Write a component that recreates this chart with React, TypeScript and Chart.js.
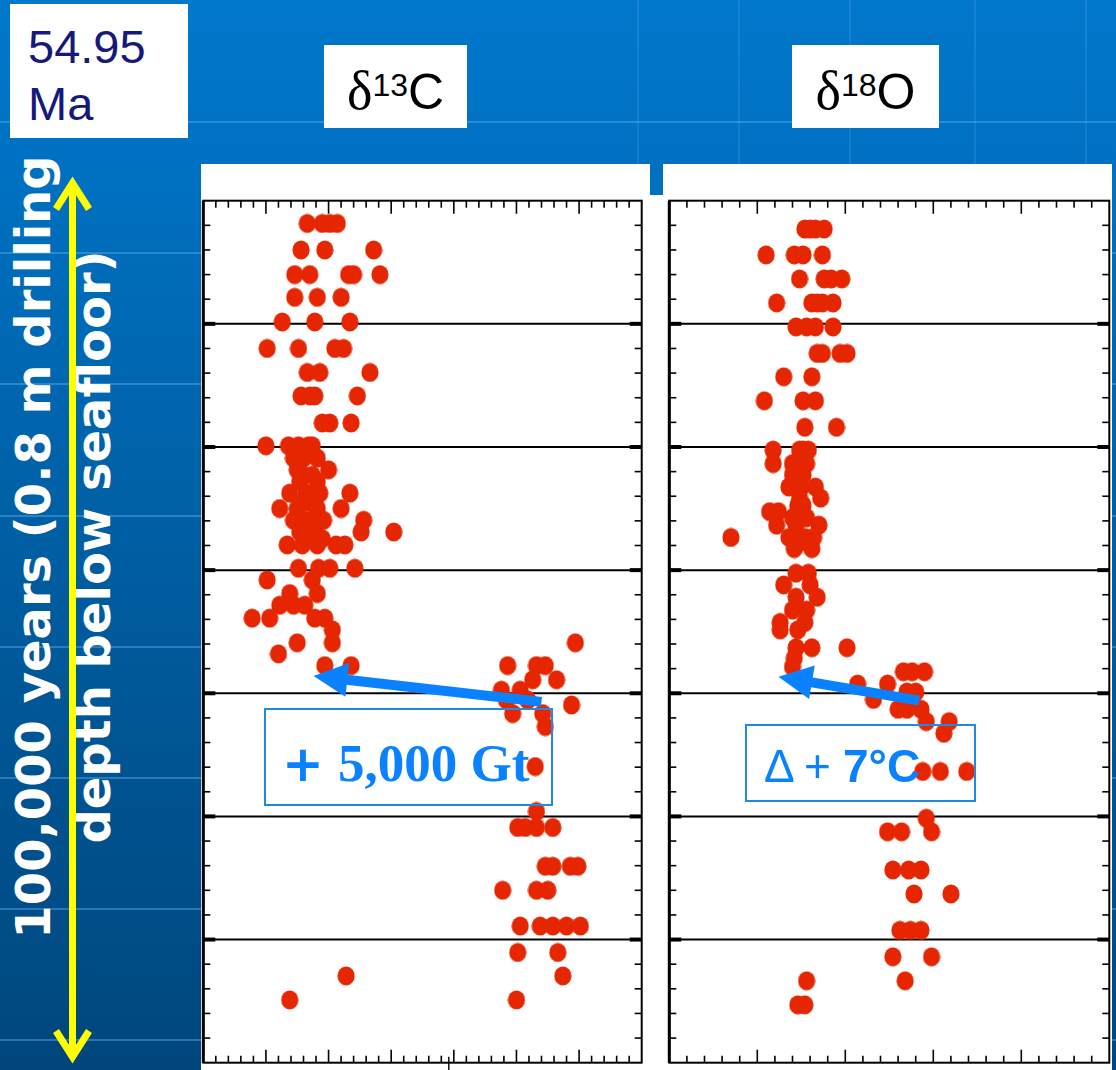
import React, { useEffect, useRef } from "react";
import { Chart, registerables } from "chart.js";

Chart.register(...registerables);

// ---------- DATA ----------
// Depth rows (cm below top of the plotted interval) and the values measured at each row
const c13Depths = [3.7, 8.0, 12.0, 15.7, 19.7, 24.0, 27.9, 31.7, 36.1, 39.8, 41.8, 43.7, 44.6, 45.6, 47.5, 49.0, 50.0, 51.9, 52.9, 53.8, 54.9, 55.9, 59.7, 61.6, 63.8, 65.7, 67.8, 69.7, 71.8, 73.6, 75.5, 77.8, 79.5, 81.1, 81.9, 83.3, 85.4, 91.9, 99.2, 101.8, 108.1, 112.0, 117.8, 122.1, 125.9, 129.8];
const c13Values = [
  [0.83, 0.95, 1.01, 1.07],
  [0.78, 0.97, 1.36],
  [0.73, 0.85, 1.16, 1.2, 1.41],
  [0.73, 0.91, 1.1],
  [0.63, 0.89, 1.17],
  [0.51, 0.76, 1.05, 1.12],
  [0.83, 0.93, 1.33],
  [0.78, 0.85, 0.89, 1.23],
  [0.95, 1.01, 1.18],
  [0.5, 0.68, 0.76, 0.84, 0.87],
  [0.72, 0.8, 0.91],
  [0.75, 1.0],
  [0.8, 0.87],
  [0.77, 0.91],
  [0.69, 0.82, 0.93, 1.17],
  [0.8, 0.86],
  [0.61, 0.75, 0.91, 1.1],
  [0.72, 0.83, 0.96, 1.28],
  [0.8, 0.9],
  [0.77, 0.88, 1.26, 1.52],
  [0.83, 0.95],
  [0.67, 0.79, 0.91, 1.06, 1.13],
  [0.76, 0.92, 1.01, 1.21],
  [0.51, 0.87],
  [0.69, 0.91],
  [0.61, 0.72, 0.81],
  [0.39, 0.53, 0.89, 0.97],
  [1.03],
  [0.75, 1.03, 2.97],
  [0.6],
  [0.97, 1.18, 2.43, 2.66, 2.73],
  [2.63, 2.82],
  [2.38, 2.53],
  [2.42, 2.59],
  [2.94],
  [2.47, 2.71],
  [2.73],
  [2.65],
  [2.66],
  [2.51, 2.57, 2.66, 2.79],
  [2.73, 2.79, 2.93, 2.99],
  [2.39, 2.66, 2.75],
  [2.53, 2.69, 2.79, 2.9, 3.01],
  [2.51, 2.83],
  [1.14, 2.87],
  [0.69, 2.5],
];

const o18Depths = [4.6, 8.8, 12.7, 16.6, 20.5, 24.8, 28.6, 32.5, 36.8, 40.5, 42.7, 44.5, 46.5, 48.3, 49.5, 50.5, 51.5, 52.7, 54.7, 55.5, 56.5, 60.5, 62.4, 64.4, 66.5, 68.5, 69.7, 72.6, 74.3, 75.7, 76.5, 78.5, 79.8, 81.0, 82.6, 84.6, 86.5, 92.7, 100.3, 102.5, 108.7, 112.6, 118.5, 122.8, 126.7, 130.6];
const o18Values = [
  [-1.23, -1.2, -1.17, -1.12],
  [-1.45, -1.29, -1.24, -1.13],
  [-1.26, -1.12, -1.08, -1.02],
  [-1.39, -1.19, -1.16, -1.13, -1.07],
  [-1.28, -1.22, -1.17, -1.07],
  [-1.16, -1.13, -1.03, -0.99],
  [-1.35, -1.19],
  [-1.46, -1.24, -1.17],
  [-1.23, -1.05],
  [-1.41, -1.26, -1.24, -1.21],
  [-1.41, -1.3, -1.27, -1.22],
  [-1.3, -1.24],
  [-1.32, -1.25, -1.17],
  [-1.26, -1.14],
  [-1.27, -1.24],
  [-1.43, -1.38, -1.27],
  [-1.3, -1.22],
  [-1.39, -1.28, -1.15],
  [-1.65, -1.32, -1.23, -1.18],
  [-1.26, -1.21],
  [-1.29, -1.19],
  [-1.28, -1.21],
  [-1.35, -1.2],
  [-1.28, -1.16],
  [-1.3, -1.22],
  [-1.37, -1.23],
  [-1.37, -1.27],
  [-1.28, -1.19, -0.99],
  [-1.29],
  [-1.3],
  [-0.67, -0.62, -0.55],
  [-0.93, -0.76],
  [-0.65, -0.6],
  [-0.84],
  [-0.7, -0.65, -0.57],
  [-0.54, -0.41],
  [-0.44],
  [-0.56, -0.46, -0.31],
  [-0.54],
  [-0.76, -0.68, -0.51],
  [-0.73, -0.64, -0.57],
  [-0.61, -0.4],
  [-0.69, -0.63, -0.57],
  [-0.73, -0.51],
  [-1.22, -0.66],
  [-1.27, -1.23],
];

// axes (no labels shown in the original; ticks only)
const depthRange = [0, 140];
const depthSteps = [20, 4]; // major, minor
const c13Range = [0, 3.5];
const c13Steps = [0.5, 0.1];
const o18Range = [-2.0, 0.5];
const o18Steps = [0.5, 0.1];

// annotation arrows (data units): [value, depth]
const c13ArrowFrom = [2.7, 81.4];
const c13ArrowTo = [0.88, 77.2];
const o18ArrowFrom = [-0.58, 81.2];
const o18ArrowTo = [-1.38, 77.3];
const c13OddTick = 1.96;

// ---------- helpers ----------
function steps(min: number, max: number, step: number) {
  const out: number[] = [];
  const n = Math.round((max - min) / step);
  for (let i = 0; i <= n; i++) out.push(+(min + i * step).toFixed(6));
  return out;
}
function isMult(v: number, m: number) {
  const r = v / m;
  return Math.abs(r - Math.round(r)) < 1e-6;
}
function rowsToPoints(depths: number[], values: number[][]) {
  const pts: { x: number; y: number }[] = [];
  depths.forEach((d, i) => values[i].forEach((v) => pts.push({ x: v, y: d })));
  return pts;
}

const RED = "#e52600";
const ARROW_BLUE = "#0a82ff";

function makeDot() {
  const c = document.createElement("canvas");
  c.width = 18;
  c.height = 20;
  const g = c.getContext("2d")!;
  g.fillStyle = RED;
  g.beginPath();
  g.ellipse(9, 10, 8.6, 9.4, 0, 0, Math.PI * 2);
  g.fill();
  return c;
}

function panelPlugin(cfg: any) {
  return {
    id: "panelAxes",
    beforeDatasetsDraw(chart: any) {
      const { ctx, chartArea } = chart;
      const { left, right, top, bottom } = chartArea;
      const xs = chart.scales.x;
      const ys = chart.scales.y;
      const line = (x1: number, y1: number, x2: number, y2: number, w: number) => {
        ctx.lineWidth = w;
        ctx.beginPath();
        ctx.moveTo(x1, y1);
        ctx.lineTo(x2, y2);
        ctx.stroke();
      };
      ctx.save();
      ctx.strokeStyle = "#000";
      ctx.lineCap = "butt";
      for (const v of steps(cfg.yRange[0], cfg.yRange[1], cfg.ySteps[1])) {
        if (v <= cfg.yRange[0] || v >= cfg.yRange[1]) continue;
        const py = ys.getPixelForValue(v);
        if (isMult(v - cfg.yRange[0], cfg.ySteps[0])) {
          line(left, py, right, py, 2);
          line(left, py, left + 12, py, 4);
          line(right - 12, py, right, py, 4);
        } else {
          line(left, py, left + 7, py, 1.6);
          line(right - 7, py, right, py, 1.6);
        }
      }
      for (const v of steps(cfg.xRange[0], cfg.xRange[1], cfg.xSteps[1])) {
        if (v <= cfg.xRange[0] || v >= cfg.xRange[1]) continue;
        const px = xs.getPixelForValue(v);
        const len = isMult(v - cfg.xRange[0], cfg.xSteps[0]) ? 13 : 7;
        line(px, top, px, top + len, 1.6);
        line(px, bottom - len, px, bottom, 1.6);
      }
      if (cfg.oddTick !== undefined) {
        const px = xs.getPixelForValue(cfg.oddTick);
        line(px, bottom - 6, px, bottom + 8, 1.4);
      }
      ctx.lineWidth = 2;
      ctx.strokeRect(left, top, right - left, bottom - top);
      line(left, top, left, bottom, 3);
      ctx.restore();
    },
    afterDatasetsDraw(chart: any) {
      const { ctx } = chart;
      const xs = chart.scales.x;
      const ys = chart.scales.y;
      const x1 = xs.getPixelForValue(cfg.arrowFrom[0]);
      const y1 = ys.getPixelForValue(cfg.arrowFrom[1]);
      const x2 = xs.getPixelForValue(cfg.arrowTo[0]);
      const y2 = ys.getPixelForValue(cfg.arrowTo[1]);
      const ang = Math.atan2(y2 - y1, x2 - x1);
      const headLen = 34;
      const half = 17;
      const bx = x2 - headLen * Math.cos(ang);
      const by = y2 - headLen * Math.sin(ang);
      ctx.save();
      ctx.strokeStyle = ARROW_BLUE;
      ctx.fillStyle = ARROW_BLUE;
      ctx.lineWidth = 10;
      ctx.lineCap = "butt";
      ctx.beginPath();
      ctx.moveTo(x1, y1);
      ctx.lineTo(bx + 3 * Math.cos(ang), by + 3 * Math.sin(ang));
      ctx.stroke();
      ctx.beginPath();
      ctx.moveTo(x2, y2);
      ctx.lineTo(bx + half * Math.sin(ang), by - half * Math.cos(ang));
      ctx.lineTo(bx - half * Math.sin(ang), by + half * Math.cos(ang));
      ctx.closePath();
      ctx.fill();
      ctx.restore();
    },
  };
}

function Panel(props: any) {
  const ref = useRef<HTMLCanvasElement | null>(null);
  useEffect(() => {
    if (!ref.current) return;
    const dot = makeDot();
    const chart = new Chart(ref.current, {
      type: "scatter",
      data: {
        datasets: [
          {
            data: rowsToPoints(props.depths, props.values),
            backgroundColor: RED,
            borderColor: RED,
            borderWidth: 0,
            pointStyle: dot,
            pointRadius: 9,
            pointHoverRadius: 9,
          },
        ],
      },
      options: {
        animation: false,
        responsive: false,
        devicePixelRatio: 1,
        events: [],
        layout: { padding: props.padding, autoPadding: false },
        plugins: { legend: { display: false }, tooltip: { enabled: false } },
        scales: {
          x: { type: "linear", min: props.xRange[0], max: props.xRange[1], display: false },
          y: { type: "linear", min: depthRange[0], max: depthRange[1], reverse: true, display: false },
        },
      },
      plugins: [
        panelPlugin({
          xRange: props.xRange,
          xSteps: props.xSteps,
          yRange: depthRange,
          ySteps: depthSteps,
          arrowFrom: props.arrowFrom,
          arrowTo: props.arrowTo,
          oddTick: props.oddTick,
        }),
      ],
    } as any);
    return () => chart.destroy();
  }, []);
  return (
    <canvas
      ref={ref}
      width={props.w}
      height={props.h}
      style={{ position: "absolute", left: props.left, top: props.top, width: props.w, height: props.h }}
    />
  );
}

const bgLinesY = [122, 253, 384, 516, 647, 778, 909, 1040];
const bgLinesX = [637, 738, 849, 974, 1085];

export default function App() {
  const abs = (o: any) => ({ position: "absolute" as const, ...o });
  return (
    <div
      style={abs({
        left: 0,
        top: 0,
        width: 1116,
        height: 1070,
        overflow: "hidden",
        background: "linear-gradient(180deg, #0278cc 0%, #0071c2 15%, #005c9f 55%, #00467c 100%)",
        fontFamily: "'Liberation Sans', Arial, sans-serif",
      })}
    >
      {bgLinesY.map((y) => (
        <div key={"h" + y} style={abs({ left: 0, top: y - 1, width: 1116, height: 2, background: "rgba(90,170,240,0.45)" })} />
      ))}
      {bgLinesX.map((x) => (
        <div key={"v" + x} style={abs({ left: x, top: 0, width: 2, height: 164, background: "rgba(90,170,240,0.22)" })} />
      ))}

      {/* white panels */}
      <div style={abs({ left: 201, top: 164, width: 449, height: 32, background: "#fff" })} />
      <div style={abs({ left: 663, top: 164, width: 449, height: 32, background: "#fff" })} />
      <div style={abs({ left: 201, top: 195, width: 911, height: 875, background: "#fff" })} />

      <Panel
        left={201}
        top={164}
        w={450}
        h={906}
        padding={{ left: 2.3, top: 36.7, right: 9.3, bottom: 7.3 }}
        depths={c13Depths}
        values={c13Values}
        xRange={c13Range}
        xSteps={c13Steps}
        arrowFrom={c13ArrowFrom}
        arrowTo={c13ArrowTo}
        oddTick={c13OddTick}
      />
      <Panel
        left={663}
        top={164}
        w={449}
        h={906}
        padding={{ left: 6.3, top: 36.7, right: 2.7, bottom: 7.3 }}
        depths={o18Depths}
        values={o18Values}
        xRange={o18Range}
        xSteps={o18Steps}
        arrowFrom={o18ArrowFrom}
        arrowTo={o18ArrowTo}
      />

      {/* age box */}
      <div style={abs({ left: 10, top: 4, width: 178, height: 134, background: "#fff" })}>
        <div
          style={abs({
            left: 18,
            top: 14.2,
            fontSize: 47,
            lineHeight: "57px",
            color: "#14197a",
            whiteSpace: "nowrap",
          })}
        >
          <div>54.95</div>
          <div>Ma</div>
        </div>
      </div>

      {/* isotope titles */}
      <div style={abs({ left: 324, top: 45, width: 143, height: 83, background: "#fff" })}>
        <div style={abs({ left: 0, top: 20.7, width: 143, textAlign: "center", fontSize: 50, lineHeight: "50px", color: "#000", whiteSpace: "nowrap" })}>
          <span style={{ fontFamily: "'Liberation Serif', serif", fontSize: 54 }}>δ</span>
          <span style={{ fontSize: 32, position: "relative", top: -13 }}>13</span>C
        </div>
      </div>
      <div style={abs({ left: 792, top: 45, width: 147, height: 83, background: "#fff" })}>
        <div style={abs({ left: 0, top: 20.7, width: 147, textAlign: "center", fontSize: 50, lineHeight: "50px", color: "#000", whiteSpace: "nowrap" })}>
          <span style={{ fontFamily: "'Liberation Serif', serif", fontSize: 54 }}>δ</span>
          <span style={{ fontSize: 32, position: "relative", top: -13 }}>18</span>O
        </div>
      </div>

      {/* vertical axis caption */}
      <div
        style={abs({
          left: 63.4 - 450,
          top: 547 - 60,
          width: 900,
          height: 120,
          transform: "rotate(-90deg)",
          textAlign: "center",
          color: "#fff",
          fontFamily: "'DejaVu Sans', sans-serif",
          fontWeight: "bold",
          fontSize: 48,
          lineHeight: "60px",
          whiteSpace: "nowrap",
        })}
      >
        <div>100,000 years (0.8 m drilling</div>
        <div>depth below seafloor)</div>
      </div>

      {/* yellow double arrow */}
      <svg width={1116} height={1070} style={abs({ left: 0, top: 0, pointerEvents: "none" })}>
        <line x1={72.5} y1={185} x2={72.5} y2={1055} stroke="#ffff00" strokeWidth={7} />
        <polyline points="56,209 72.5,183 89,209" fill="none" stroke="#ffff00" strokeWidth={7} strokeLinejoin="miter" />
        <polyline points="56,1031 72.5,1057 89,1031" fill="none" stroke="#ffff00" strokeWidth={7} strokeLinejoin="miter" />
      </svg>

      {/* annotation boxes */}
      <div style={abs({ left: 264.3, top: 707.7, width: 289, height: 98, border: "2px solid #1f8ae0", boxSizing: "border-box" })} />
      <div style={abs({ left: 282, top: 739.4, fontFamily: "'DejaVu Sans', sans-serif", fontWeight: "bold", fontSize: 50, lineHeight: 1, color: ARROW_BLUE })}>+</div>
      <div style={abs({ left: 338, top: 737.3, fontFamily: "'Liberation Serif', serif", fontWeight: "bold", fontSize: 53, lineHeight: 1, color: ARROW_BLUE, whiteSpace: "nowrap" })}>5,000 Gt</div>

      <div style={abs({ left: 745, top: 724, width: 231, height: 78.3, border: "2px solid #1f8ae0", boxSizing: "border-box" })} />
      <div style={abs({ left: 764, top: 742.8, fontSize: 46, lineHeight: 1, color: ARROW_BLUE })}>Δ</div>
      <div style={abs({ left: 804, top: 742.8, fontSize: 46, lineHeight: 1, color: ARROW_BLUE })}>+</div>
      <div style={abs({ left: 843, top: 742.8, fontSize: 46, lineHeight: 1, fontWeight: "bold", color: ARROW_BLUE, whiteSpace: "nowrap" })}>7°C</div>
    </div>
  );
}
